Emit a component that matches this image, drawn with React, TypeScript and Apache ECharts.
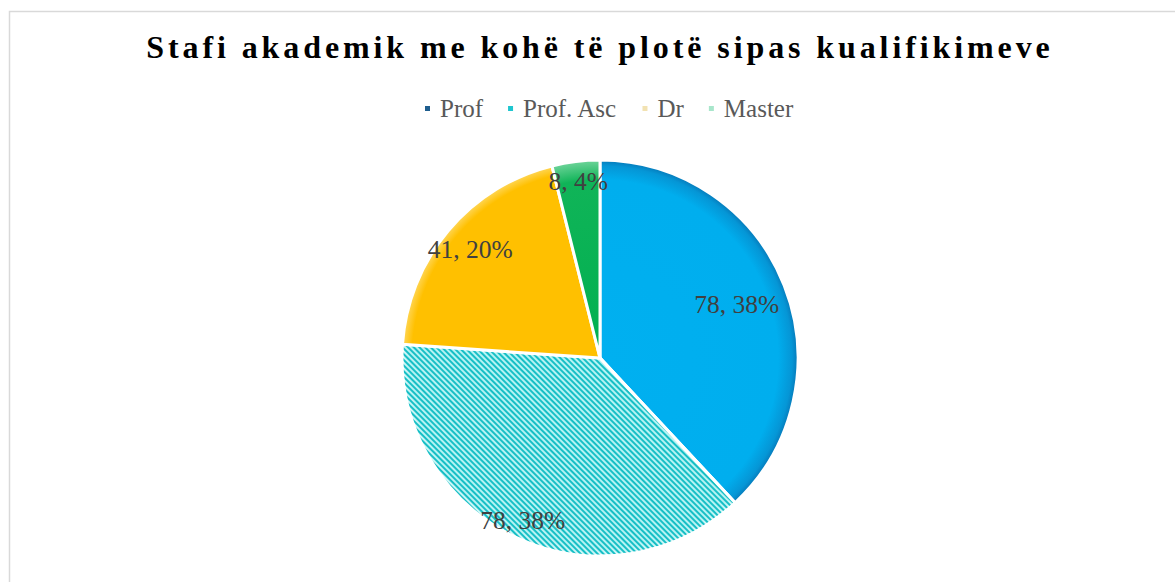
import React, { useEffect, useRef } from "react";
import * as echarts from "echarts";

const titleText = "Stafi akademik me kohë të plotë sipas kualifikimeve";
const categories = ["Prof", "Prof. Asc", "Dr", "Master"];
const values = [78, 78, 41, 8];
const legendColors = ["#1F5E8E", "#1EC6CF", "#F2E2B2", "#A8E6CB"];
// radial position of each data label, as a share of the pie radius
const labelRadii = [0.72, 0.88, 0.83, 0.87];

const CX = 600;
const CY = 358;
const R = 198;

function radial(stops: [number, string][]) {
  return {
    type: "radial",
    x: CX,
    y: CY,
    r: R,
    global: true,
    colorStops: stops.map(([offset, color]) => ({ offset, color })),
  };
}

const sliceStyles = [
  {
    color: radial([
      [0, "#00B0F0"],
      [0.9, "#00AEEE"],
      [0.97, "#0596D6"],
      [1, "#0678B8"],
    ]),
  },
  {
    color: radial([
      [0, "#B6F3F3"],
      [0.96, "#B6F3F3"],
      [1, "#D8F8F8"],
    ]),
    decal: {
      symbol: "rect",
      color: "#17BFC6",
      dashArrayX: [1, 0],
      dashArrayY: [1.6, 1.8],
      rotation: Math.PI / 4,
    },
  },
  {
    color: radial([
      [0, "#FFC000"],
      [0.95, "#FFC000"],
      [1, "#FFD75A"],
    ]),
  },
  {
    color: radial([
      [0, "#00B050"],
      [0.9, "#10B458"],
      [1, "#6FD49A"],
    ]),
  },
];

export default function App() {
  const ref = useRef<HTMLDivElement>(null);
  useEffect(() => {
    if (!ref.current) return;
    const chart = echarts.init(ref.current, undefined, { renderer: "svg" });
    chart.setOption({
      animation: false,
      backgroundColor: "#FFFFFF",
      title: {
        text: titleText,
        left: 600,
        textAlign: "center",
        top: 31,
        padding: 0,
        textStyle: {
          fontFamily: "Liberation Serif",
          fontWeight: "bold",
          fontSize: 32,
          color: "#000000",
        },
      },
      legend: {
        left: 418,
        top: 91,
        icon: "rect",
        itemWidth: 7,
        itemHeight: 7,
        itemGap: 23,
        textStyle: {
          fontFamily: "Liberation Serif",
          fontSize: 25,
          color: "#595959",
          padding: [0, 0, 0, 4],
        },
        data: categories.map((name, i) => ({
          name,
          itemStyle: { color: legendColors[i], decal: "none" },
        })),
      },
      graphic: [
        {
          type: "rect",
          shape: { x: 9.5, y: 11.5, width: 1200, height: 620 },
          style: { fill: "none", stroke: "#D9D9D9", lineWidth: 1.5 },
          silent: true,
        },
      ],
      series: [
        {
          type: "pie",
          center: [CX, CY],
          radius: [0, R],
          startAngle: 90,
          clockwise: true,
          avoidLabelOverlap: false,
          itemStyle: { borderColor: "#FFFFFF", borderWidth: 3 },
          label: {
            show: true,
            position: "inside",
            formatter: (p: any) => `${p.value}, ${Math.round(p.percent)}%`,
            fontFamily: "Liberation Serif",
            fontSize: 25.5,
            color: "#404040",
          },
          labelLine: { show: false },
          emphasis: { disabled: true },
          labelLayout: (params: any) => {
            const r = params.labelRect;
            const lx = r.x + r.width / 2;
            const ly = r.y + r.height / 2;
            const f = labelRadii[params.dataIndex] / 0.5;
            return { x: CX + (lx - CX) * f, y: CY + (ly - CY) * f };
          },
          data: categories.map((name, i) => ({
            name,
            value: values[i],
            itemStyle: sliceStyles[i],
          })),
        },
      ],
    });
    return () => chart.dispose();
  }, []);
  return (
    <>
      <style>{`body{margin:0} svg text[style*="bold"]{letter-spacing:3.9px}`}</style>
      <div
        ref={ref}
        style={{ position: "absolute", left: 0, top: 0, width: 1175, height: 582 }}
      />
    </>
  );
}
